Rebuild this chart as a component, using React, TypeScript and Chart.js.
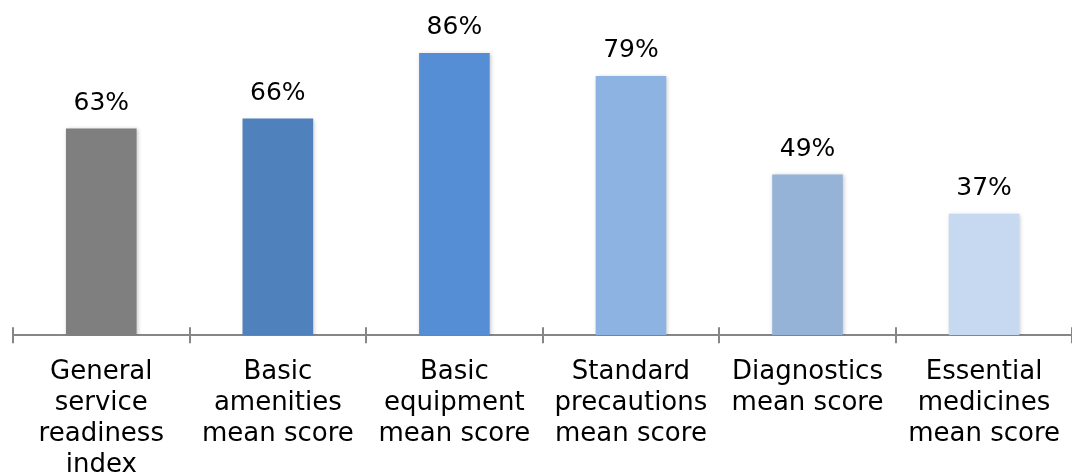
import React, { useEffect, useRef } from "react";
import { Chart, registerables } from "chart.js";

Chart.register(...registerables);

const categories: string[][] = [
  ["General", "service", "readiness", "index"],
  ["Basic", "amenities", "mean score"],
  ["Basic", "equipment", "mean score"],
  ["Standard", "precautions", "mean score"],
  ["Diagnostics", "mean score"],
  ["Essential", "medicines", "mean score"],
];
const values: number[] = [63, 66, 86, 79, 49, 37];
const barColors: string[] = ["#7f7f7f", "#4f81bd", "#558ed5", "#8db3e2", "#95b3d7", "#c6d9f1"];

const FONT = "'DejaVu Sans', sans-serif";

const valueLabels = {
  id: "valueLabels",
  afterDatasetsDraw(chart: any) {
    const ctx = chart.ctx;
    const meta = chart.getDatasetMeta(0);
    ctx.save();
    ctx.font = `25px ${FONT}`;
    ctx.fillStyle = "#000";
    ctx.textAlign = "center";
    ctx.textBaseline = "middle";
    meta.data.forEach((bar: any, i: number) => {
      ctx.fillText(values[i] + "%", bar.x, bar.y - 25);
    });
    ctx.restore();
  },
};

const crossTicks = {
  id: "crossTicks",
  afterDraw(chart: any) {
    const ctx = chart.ctx;
    const xs = chart.scales.x;
    const y0 = chart.chartArea.bottom;
    ctx.save();
    ctx.strokeStyle = "#868686";
    ctx.lineWidth = 2;
    ctx.beginPath();
    for (let i = 0; i <= categories.length; i++) {
      const x = Math.round(xs.getPixelForValue(i - 0.5));
      ctx.moveTo(x, y0 - 8);
      ctx.lineTo(x, y0 + 8);
    }
    ctx.stroke();
    ctx.restore();
  },
};

const barShadow = {
  id: "barShadow",
  beforeDatasetsDraw(chart: any) {
    const ctx = chart.ctx;
    ctx.save();
    ctx.shadowColor = "rgba(0,0,0,0.22)";
    ctx.shadowBlur = 4;
    ctx.shadowOffsetX = 1;
    ctx.shadowOffsetY = 1;
  },
  afterDatasetsDraw(chart: any) {
    chart.ctx.restore();
  },
};

export default function App() {
  const ref = useRef<HTMLCanvasElement | null>(null);
  useEffect(() => {
    if (!ref.current) return;
    const chart = new Chart(ref.current, {
      type: "bar",
      data: {
        labels: categories,
        datasets: [
          {
            data: values,
            backgroundColor: barColors,
            borderWidth: 0,
            barPercentage: 0.4,
            categoryPercentage: 1,
          },
        ],
      },
      options: {
        animation: false,
        responsive: false,
        maintainAspectRatio: false,
        layout: { padding: { top: 7, left: 13, right: 0, bottom: 0 } },
        plugins: { legend: { display: false }, tooltip: { enabled: false } },
        scales: {
          y: { display: false, min: 0, max: 100 },
          x: {
            grid: { display: false, drawTicks: false },
            border: { display: true, color: "#868686", width: 2 },
            ticks: {
              color: "#000",
              padding: 21,
              maxRotation: 0,
              autoSkip: false,
              font: { family: FONT, size: 26, lineHeight: 1.2 },
            },
          },
        },
      },
      plugins: [barShadow, valueLabels, crossTicks],
    });
    return () => chart.destroy();
  }, []);
  return (
    <div style={{ position: "fixed", left: 0, top: 0, width: 1072, height: 475, overflow: "hidden", background: "#fff" }}>
      <canvas ref={ref} width={1081} height={502} style={{ display: "block" }} />
    </div>
  );
}
